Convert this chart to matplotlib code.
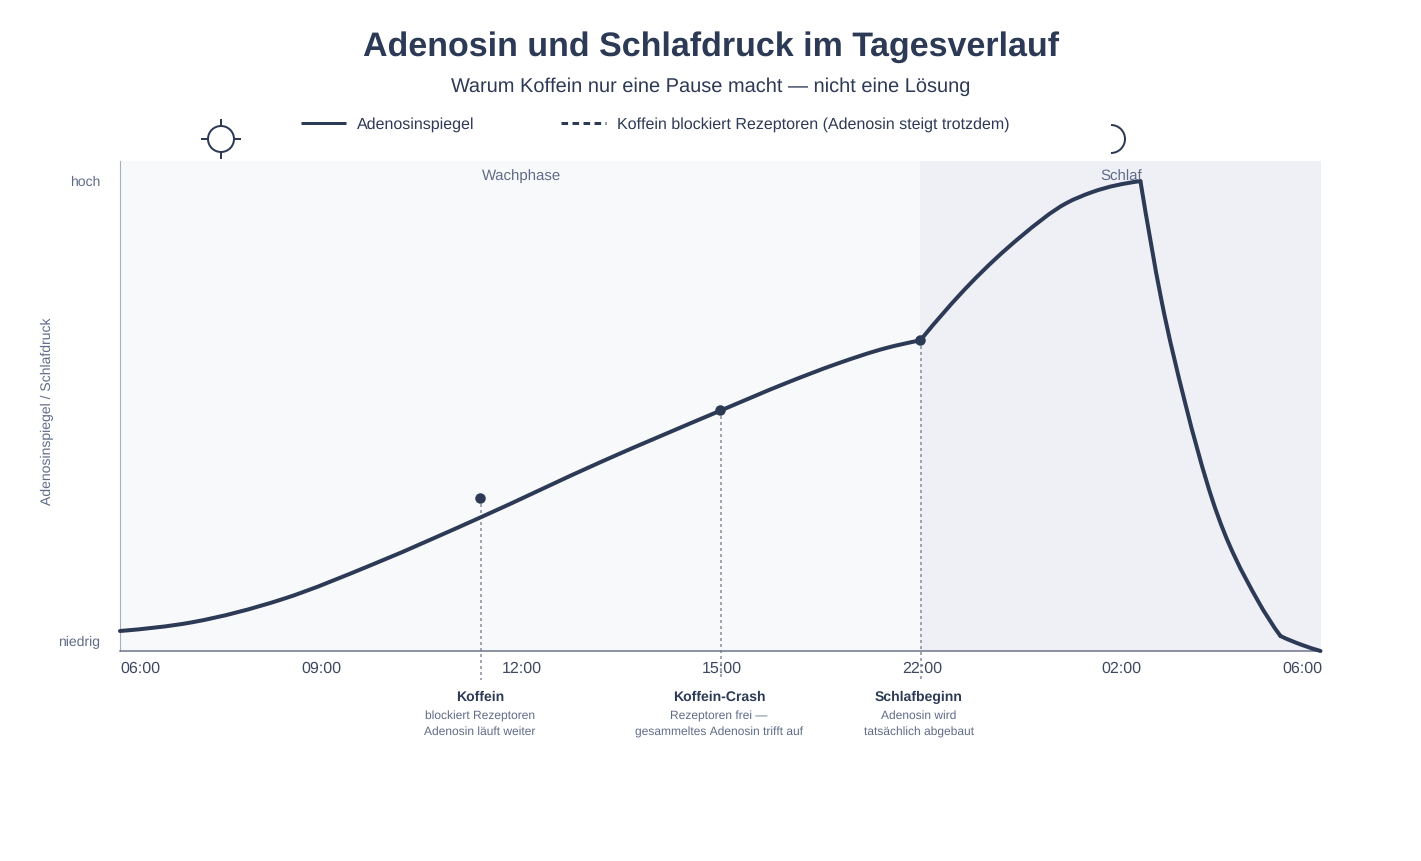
import matplotlib
matplotlib.use("Agg")
import matplotlib.pyplot as plt
from matplotlib.path import Path
from matplotlib.patches import PathPatch, Circle, Arc

plt.rcParams["font.family"] = ["Liberation Sans", "DejaVu Sans"]
plt.rcParams["text.hinting"] = "no_hinting"
plt.rcParams["text.hinting_factor"] = 1

W, H = 1421, 861
PX = 0.72  # points per pixel at 100 dpi

INK = "#2d3a55"
MUTED = "#5f6c87"
AWAKE_BG = "#f8f9fb"
SLEEP_BG = "#eef0f6"

TITLE = "Adenosin und Schlafdruck im Tagesverlauf"
SUBTITLE = "Warum Koffein nur eine Pause macht — nicht eine Lösung"
YLABEL = "Adenosinspiegel / Schlafdruck"
LEGEND_SOLID = "Adenosinspiegel"
LEGEND_DASHED = "Koffein blockiert Rezeptoren (Adenosin steigt trotzdem)"

tick_labels = ["06:00", "09:00", "12:00", "15:00", "22:00", "02:00", "06:00"]
tick_positions = [0, 1, 2, 3, 4, 5, 6]

# Adenosine level, one list per smooth stretch of the curve
rise_t = [0, 0.36, 0.81, 1.28, 1.795, 2.41, 3.0, 3.33, 3.58, 3.83, 4.0]
rise_v = [4.08, 5.86, 10.55, 17.96, 27.14, 38.7, 49.04, 54.69, 58.57, 61.84, 63.4]
rise_ends = (3.5, 8.0)
evening_t = [4.0, 4.25, 4.5, 4.73, 4.86, 5.1]
evening_v = [63.4, 75.0, 84.5, 91.4, 93.67, 95.9]
evening_ends = (50.0, 5.5)
fall_t = [5.1, 5.205, 5.32, 5.46, 5.685, 5.8]
fall_v = [95.9, 71.6, 51.2, 30.8, 10.4, 3.06]
fall_ends = (-250.0, -55.0)
tail_t = [5.8, 5.91, 6.0]
tail_v = [3.06, 1.2, 0.0]
tail_ends = (-20.0, -12.0)

event_t = [1.8, 3.0, 4.0]
event_v = [31.2, 49.1, 63.4]
event_titles = ["Koffein", "Koffein-Crash", "Schlafbeginn"]
event_lines = [
    ["blockiert Rezeptoren", "Adenosin läuft weiter"],
    ["Rezeptoren frei —", "gesammeltes Adenosin trifft auf"],
    ["Adenosin wird", "tatsächlich abgebaut"],
]
event_label_px = [480, 719, 919]


def smooth_path(ts, vs, ends):
    """Cubic Hermite curve through the points, written as Bezier segments."""
    n = len(ts)
    steps = [ts[i + 1] - ts[i] for i in range(n - 1)]
    chords = [(vs[i + 1] - vs[i]) / steps[i] for i in range(n - 1)]
    slopes = [ends[0]]
    for i in range(1, n - 1):
        slopes.append((chords[i - 1] * steps[i] + chords[i] * steps[i - 1]) / (steps[i - 1] + steps[i]))
    slopes.append(ends[1])
    verts = [(ts[0], vs[0])]
    codes = [Path.MOVETO]
    for i in range(n - 1):
        h = steps[i] / 3
        verts += [(ts[i] + h, vs[i] + slopes[i] * h),
                  (ts[i + 1] - h, vs[i + 1] - slopes[i + 1] * h),
                  (ts[i + 1], vs[i + 1])]
        codes += [Path.CURVE4] * 3
    return Path(verts, codes)


fig = plt.figure(figsize=(W / 100, H / 100), dpi=100, facecolor="white")

# Main plot area
ax = fig.add_axes([120 / W, 1 - 651 / H, 1200.5 / W, 490 / H])
ax.set_xlim(0, 6)
ax.set_ylim(0, 100)
ax.set_facecolor(AWAKE_BG)
ax.axvspan(4, 6, color=SLEEP_BG, lw=0, zorder=0)

for s in ("top", "right"):
    ax.spines[s].set_visible(False)
ax.spines["left"].set_color("#a9aebd")
ax.spines["left"].set_linewidth(0.8)
ax.spines["bottom"].set_color("#6c7488")
ax.spines["bottom"].set_linewidth(1.1)

ax.set_yticks([])
ax.set_xticks([])

# Drop lines from each event down past the axis
for t, v in zip(event_t, event_v):
    ax.plot([t + 0.004, t + 0.004], [v, -5.9], color="#878c9c", lw=1.5 * PX,
            dashes=(2, 2), clip_on=False, zorder=2)

for ts, vs, ends in ((rise_t, rise_v, rise_ends), (evening_t, evening_v, evening_ends),
                     (fall_t, fall_v, fall_ends), (tail_t, tail_v, tail_ends)):
    ax.add_patch(PathPatch(smooth_path(ts, vs, ends), fc="none", ec=INK, lw=4 * PX,
                           capstyle="round", joinstyle="miter", clip_on=False, zorder=3))

ax.plot(event_t, event_v, "o", color=INK, ms=10.5 * PX, mew=0, zorder=4, clip_on=False)

# Overlay in pixel coordinates for titles, legend and annotations
ov = fig.add_axes([0, 0, 1, 1], facecolor="none")
ov.set_xlim(0, W)
ov.set_ylim(H, 0)
ov.axis("off")


def label(x, y, s, size, color=INK, ha="center", **kw):
    ov.text(x, y, s, fontsize=size * PX, color=color, ha=ha, va="center", **kw)


label(711, 47, TITLE, 34, weight="bold")
label(710.5, 87, SUBTITLE, 20)

# Legend
ov.plot([301, 346], [123, 123], color=INK, lw=3 * PX, solid_capstyle="butt")
label(357, 124.5, LEGEND_SOLID, 16, ha="left")
ov.plot([561, 606], [123, 123], color=INK, lw=3 * PX, dashes=(2.2, 1.47), dash_capstyle="butt")
label(617, 124.5, LEGEND_DASHED, 16, ha="left")

# Sun and moon symbols
ov.add_patch(Circle((221, 139), 13, fc="none", ec=INK, lw=2 * PX))
for x0, y0, x1, y1 in ((221, 119, 221, 125), (221, 153, 221, 159), (201, 139, 207, 139), (235, 139, 241, 139)):
    ov.plot([x0, x1], [y0, y1], color=INK, lw=2 * PX, solid_capstyle="butt")
ov.add_patch(Arc((1111, 139), 28, 28, theta1=-90, theta2=90, ec=INK, lw=2 * PX))

# Phase names and axis text
label(521.5, 176.5, "Wachphase", 15, MUTED)
label(1121, 176.5, "Schlaf", 15, MUTED)
label(100.5, 182, "hoch", 14.4, MUTED, ha="right")
label(100.5, 642, "niedrig", 14.4, MUTED, ha="right")
label(47.5, 411.5, YLABEL, 14, MUTED, rotation=90)

for t, s in zip(tick_positions, tick_labels):
    px = 121 + t * 200
    ha = "left" if t == 0 else ("right" if t == 6 else "center")
    label(px + (1.5 if ha == "right" else 0) + (0.8 if ha == "center" else -0.5), 668.5, s, 15.6, ha=ha,
          color="#3d4860")

for x, title, lines in zip(event_label_px, event_titles, event_lines):
    label(x, 697, title, 14, weight="bold")
    label(x, 716, lines[0], 12, MUTED)
    label(x, 732, lines[1], 12, MUTED)

fig.savefig("out.png", dpi=100, facecolor="white")
